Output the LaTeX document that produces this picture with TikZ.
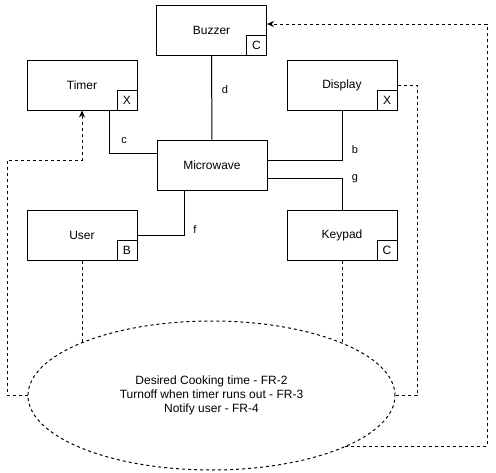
\documentclass[tikz,border=0pt]{standalone}
\usepackage{fontspec}
\setmainfont{Liberation Sans}
\usetikzlibrary{shapes.geometric,arrows.meta}
\begin{document}
\begin{tikzpicture}[x=1pt,y=-1pt,
  box/.style={draw,line width=1pt,minimum width=110pt,minimum height=50pt,inner sep=0pt,font=\fontsize{12}{14}\selectfont},
  tag/.style={draw,line width=1pt,minimum width=20pt,minimum height=20pt,inner sep=0pt,anchor=south east,font=\fontsize{12}{14}\selectfont},
  link/.style={line width=1pt},
  dep/.style={line width=1pt,dash pattern=on 3pt off 3pt},
  lbl/.style={font=\fontsize{11}{13}\selectfont,inner sep=0pt},
  tip/.style={-{Stealth[length=7pt,width=6pt]}}]
\useasboundingbox (0,0) rectangle (496,472);
% boxes
\node[box] (buzzer) at (211.5,30.5) {Buzzer};
\node[tag] (buzzertag) at (buzzer.south east) {C};
\node[box] (timer) at (82,85) {Timer};
\node[tag] (timertag) at (timer.south east) {X};
\node[box] (display) at (342,85) {Display};
\node[tag] (displaytag) at (display.south east) {X};
\node[box] (mw) at (212,165) {Microwave};
\node[box] (user) at (82,235) {User};
\node[tag] (usertag) at (user.south east) {B};
\node[box] (keypad) at (342,235) {Keypad};
\node[tag] (keypadtag) at (keypad.south east) {C};
% requirements ellipse
\node[ellipse,draw,dep,minimum width=367pt,minimum height=149pt,inner sep=0pt,align=center,font=\fontsize{12}{14}\selectfont] (req) at (211.5,395.5)
  {Desired Cooking time - FR-2\\Turnoff when timer runs out - FR-3\\Notify user - FR-4};
% solid links
\draw[link] (buzzer.south) -- (mw.north);
\node[lbl] (dl) at (225,90) {d};
\draw[link] ([xshift=27pt]timer.south) |- ([yshift=12pt]mw.west);
\node[lbl] (cl) at (124,141) {c};
\draw[link] (display.south) |- ([yshift=5pt]mw.east);
\node[lbl] (bl) at (355,150) {b};
\draw[link] ([yshift=-13pt]mw.east) -| (keypad.north);
\node[lbl] (gl) at (355,179) {g};
\draw[link] (user.east) -| ([xshift=-28pt]mw.south);
\node[lbl] (fl) at (195,230) {f};
% dashed dependencies
\coordinate (ue) at (82,343);
\coordinate (ke) at (342,343);
\draw[dep] (user.south) -- (ue);
\draw[dep] (keypad.south) -- (ke);
\coordinate (tl) at (7,160);
\draw[dep,tip] (req.west) -| (tl) -| (timer.south);
\coordinate (dr) at (417,395.5);
\draw[dep] (display.east) -| (dr) -- (req.east);
\coordinate (brt) at (487,24);
\draw[dep,tip] (req.-21.5) -| (brt) -- ([yshift=6.5pt]buzzer.east);
\end{tikzpicture}
\end{document}
